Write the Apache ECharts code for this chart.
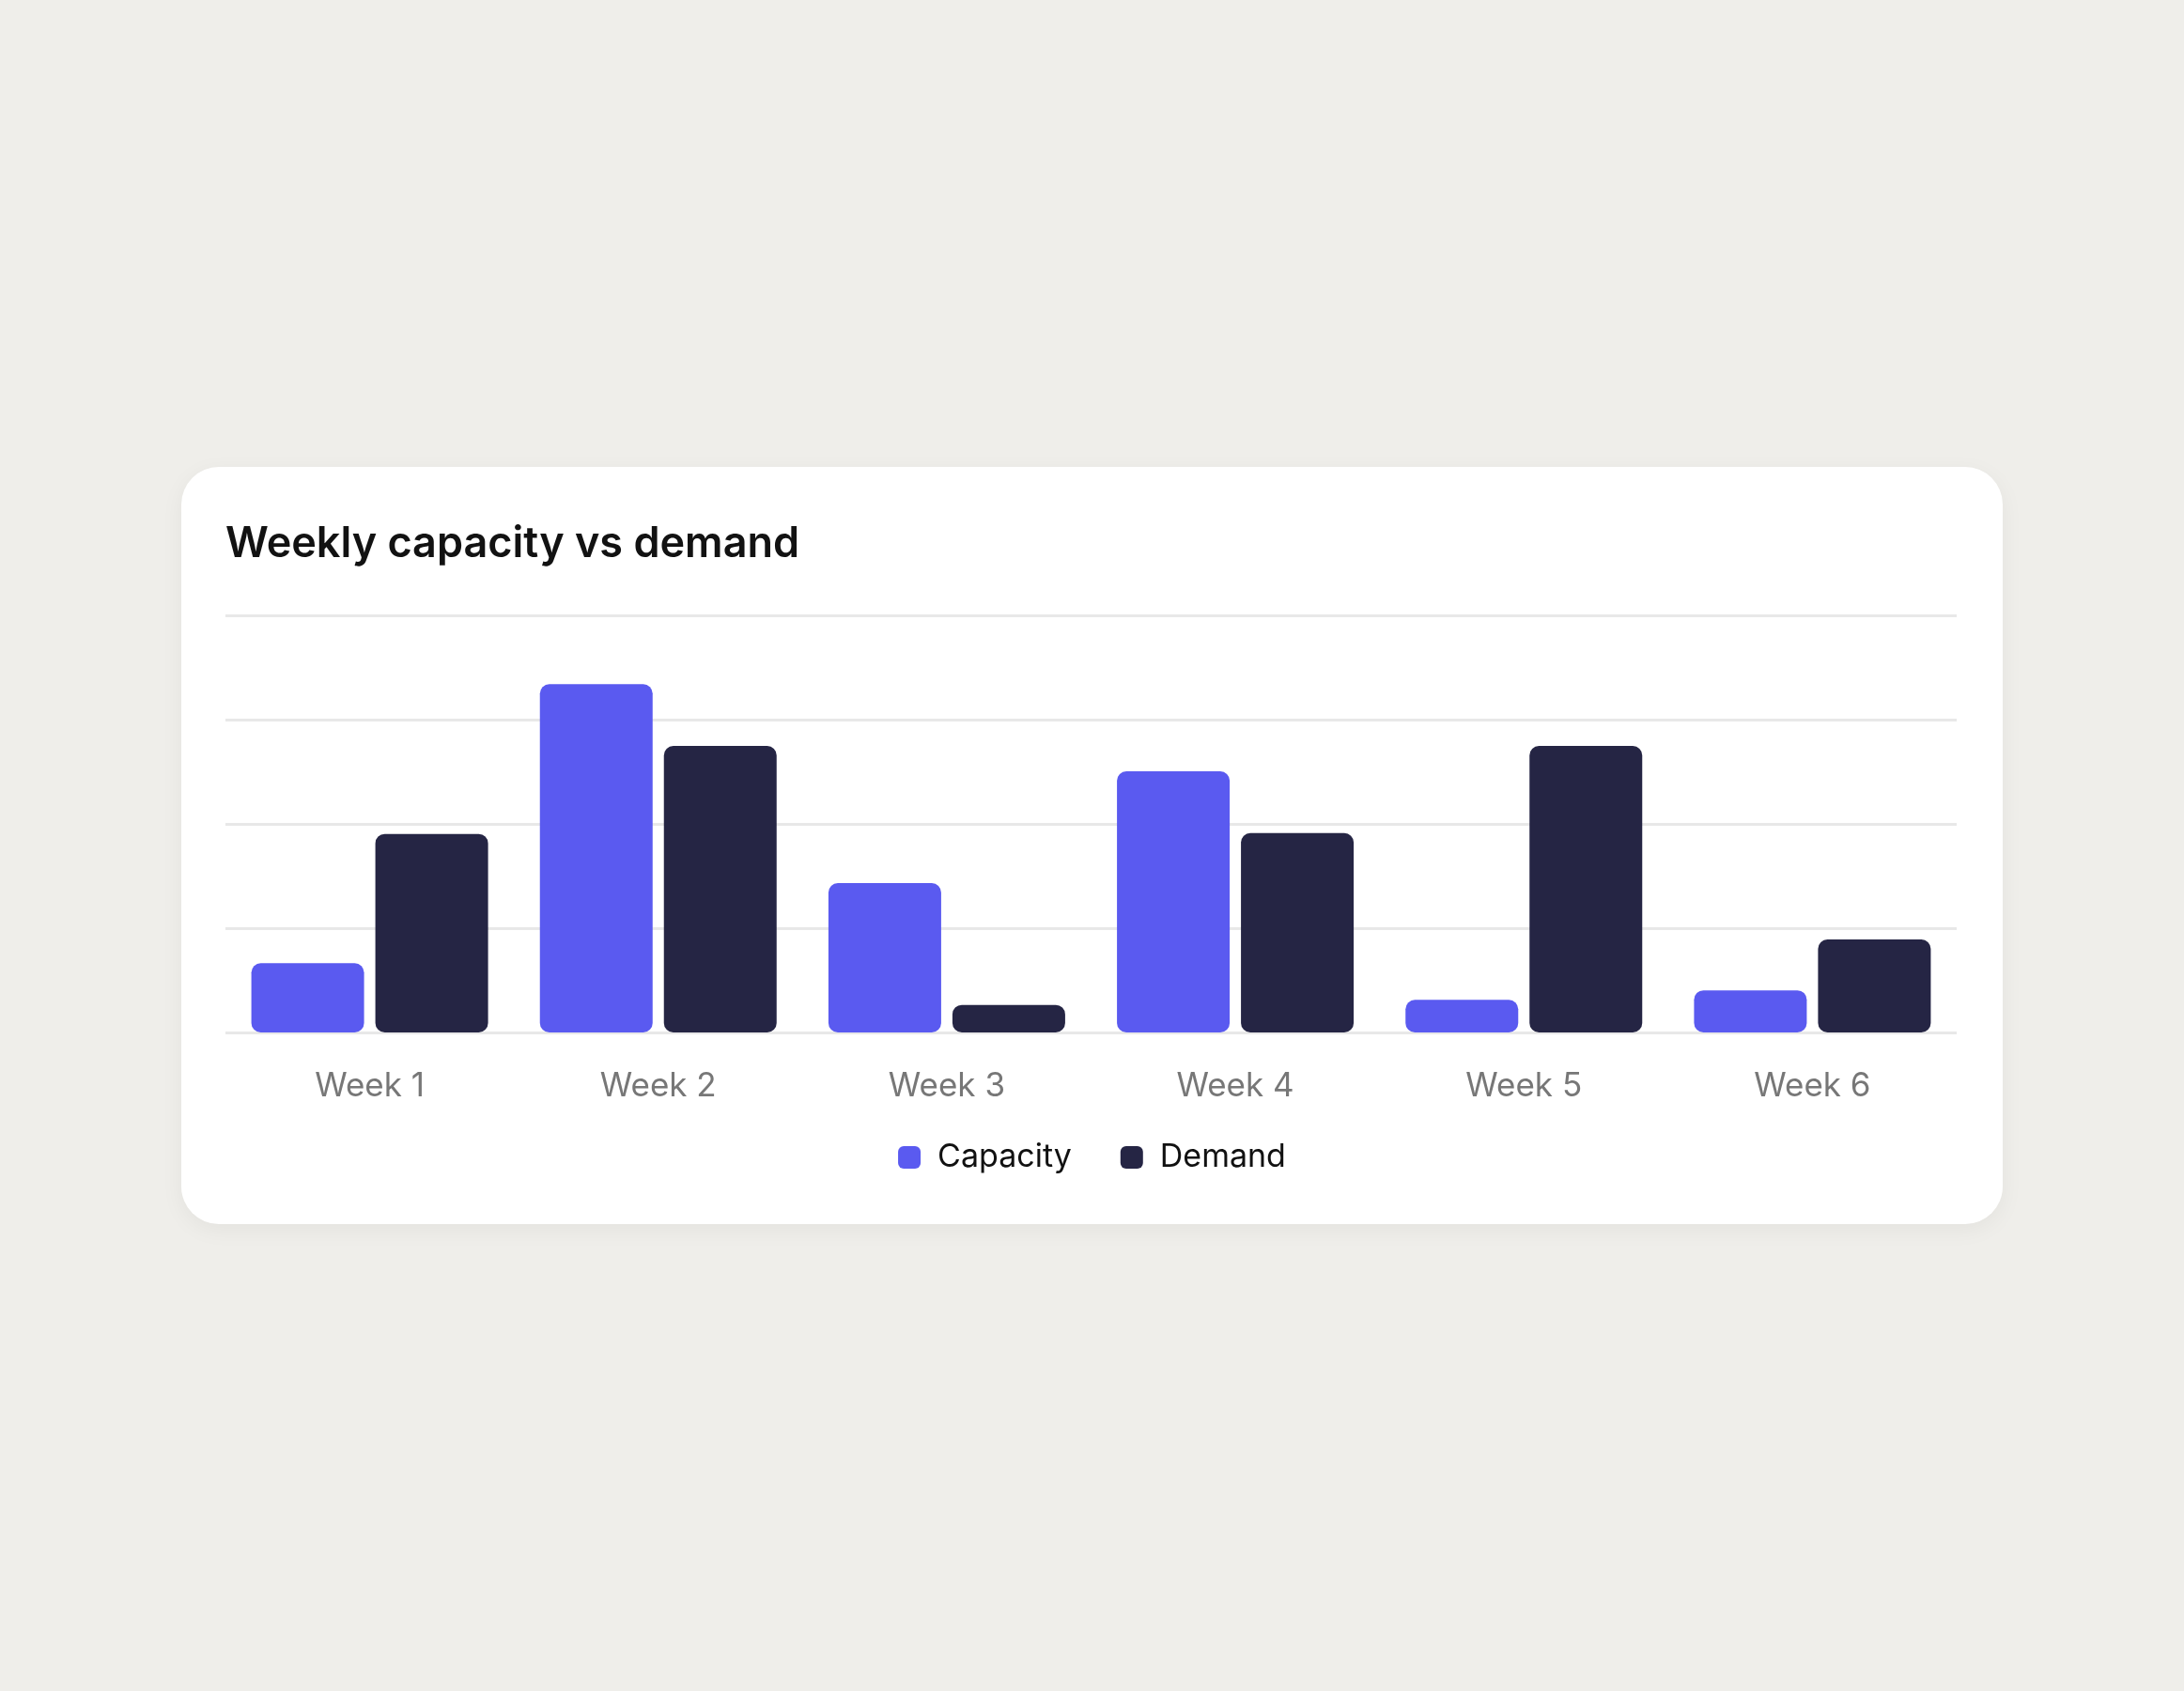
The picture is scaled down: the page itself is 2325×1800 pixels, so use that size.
<!DOCTYPE html>
<html>
<head>
<meta charset="utf-8">
<script src="https://cdn.jsdelivr.net/npm/echarts@6/dist/echarts.min.js"></script>
<style>
  html, body { margin: 0; padding: 0; width: 2325px; height: 1800px; background: #EFEEEA; overflow: hidden; }
  #card { position: absolute; left: 193px; top: 497px; width: 1939px; height: 806px; background: #FFFFFF; border-radius: 40px; box-shadow: 0 6px 24px rgba(0,0,0,0.05); }
  #chart { position: absolute; left: 0; top: 0; width: 2325px; height: 1800px; }
</style>
</head>
<body>
<div id="card"></div>
<div id="chart"></div>
<script>
const categories = ['Week 1', 'Week 2', 'Week 3', 'Week 4', 'Week 5', 'Week 6'];
const capacity = [16.6, 83.5, 35.8, 62.6, 7.8, 10.1];
const demand = [47.6, 68.7, 6.6, 47.8, 68.7, 22.3];
const seriesNames = ['Capacity', 'Demand'];

const chart = echarts.init(document.getElementById('chart'), null, { renderer: 'canvas' });
const FONT = 'Inter, "Noto Sans", sans-serif';
chart.setOption({
  backgroundColor: 'transparent',
  animation: false,
  title: {
    text: 'Weekly capacity vs demand',
    left: 235, top: 552,
    textStyle: { fontFamily: FONT, fontSize: 45, fontWeight: 600, color: '#121212' }
  },
  legend: {
    data: seriesNames,
    left: 'center', top: 1210,
    icon: 'roundRect', itemWidth: 24, itemHeight: 24, itemGap: 52,
    textStyle: { fontFamily: FONT, fontSize: 34, color: '#111111', padding: [0, 0, 0, 13] }
  },
  grid: { left: 240, right: 242, top: 655, bottom: 701, containLabel: false },
  xAxis: {
    type: 'category', data: categories,
    axisLine: { show: false }, axisTick: { show: false },
    axisLabel: { fontFamily: FONT, fontSize: 35, color: '#777777', margin: 40 }
  },
  yAxis: {
    type: 'value', min: 0, max: 100, interval: 25,
    axisLabel: { show: false }, axisLine: { show: false }, axisTick: { show: false },
    splitLine: { lineStyle: { color: '#E8E8E8', width: 3 } }
  },
  series: [
    { name: seriesNames[0], type: 'bar', data: capacity, barWidth: 120, barGap: '10%',
      itemStyle: { color: '#5A5AF0', borderRadius: 10 } },
    { name: seriesNames[1], type: 'bar', data: demand, barWidth: 120, barGap: '10%',
      itemStyle: { color: '#252544', borderRadius: 10 } }
  ]
});
</script>
</body>
</html>
